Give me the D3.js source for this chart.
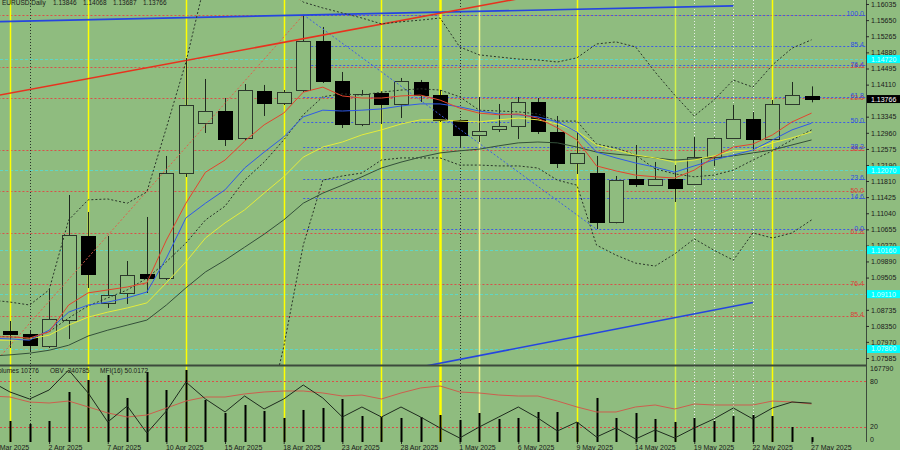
<!DOCTYPE html>
<html>
<head>
<meta charset="utf-8">
<script src="https://cdn.jsdelivr.net/npm/d3@7"></script>
<style>
html,body{margin:0;padding:0;background:#8fbc7f;overflow:hidden}
svg{display:block;font-family:"Liberation Sans",Arial,sans-serif}
</style>
</head>
<body>
<svg id="chart" width="900" height="450"></svg>
<script>
// ---------------- DATA ----------------
const dates = ["28 Mar","31 Mar","1 Apr","2 Apr","3 Apr","4 Apr","7 Apr","8 Apr","9 Apr","10 Apr","11 Apr","14 Apr","15 Apr","16 Apr","17 Apr","18 Apr","21 Apr","22 Apr","23 Apr","24 Apr","25 Apr","28 Apr","29 Apr","30 Apr","1 May","2 May","5 May","6 May","7 May","8 May","9 May","12 May","13 May","14 May","15 May","16 May","19 May","20 May","21 May","22 May","23 May","26 May","27 May"];
const dateTicks = ["28 Mar","2 Apr","7 Apr","10 Apr","15 Apr","18 Apr","23 Apr","28 Apr","1 May","6 May","9 May","14 May","19 May","22 May","27 May"];
const dateTickLabels = ["28 Mar 2025","2 Apr 2025","7 Apr 2025","10 Apr 2025","15 Apr 2025","18 Apr 2025","23 Apr 2025","28 Apr 2025","1 May 2025","6 May 2025","9 May 2025","14 May 2025","19 May 2025","22 May 2025","27 May 2025"];

const open  = [null,1.08229,1.08158,1.07871,1.08492,1.10497,1.08898,1.09137,1.09590,1.09495,1.12001,1.13194,1.13481,1.12836,1.13958,1.13672,1.13982,1.15152,1.14197,1.13171,1.13911,1.13648,1.14173,1.13863,1.13266,1.12908,1.13051,1.13123,1.13696,1.12980,1.12240,1.12001,1.10831,1.11858,1.11715,1.11858,1.11738,1.12383,1.12836,1.13290,1.12813,1.13648,1.13846];
const high  = [null,1.08468,1.08253,1.09232,1.11476,1.11070,1.10497,1.09900,1.10951,1.12407,1.14746,1.14245,1.13791,1.14125,1.14102,1.13982,1.15772,1.15486,1.14412,1.13982,1.13950,1.14269,1.14221,1.13982,1.13280,1.13815,1.13648,1.13815,1.13791,1.13362,1.12956,1.12407,1.11929,1.12669,1.12264,1.12192,1.12860,1.12850,1.13624,1.13457,1.13743,1.14173,1.14068];
const low   = [null,1.07824,1.07728,1.07824,1.08039,1.09256,1.08779,1.08874,1.09137,1.09447,1.11905,1.12956,1.12645,1.12789,1.13362,1.13624,1.13934,1.14149,1.13075,1.13120,1.13171,1.13314,1.13696,1.13218,1.12622,1.12741,1.12980,1.12813,1.12932,1.12120,1.11977,1.10664,1.10800,1.11667,1.11691,1.11309,1.11720,1.12168,1.12813,1.12526,1.12800,1.13624,1.13687];
const close = [null,1.08158,1.07895,1.08516,1.10521,1.09590,1.09089,1.09566,1.09495,1.12001,1.13624,1.13481,1.12813,1.13982,1.13672,1.13934,1.15152,1.14197,1.13171,1.13887,1.13648,1.14197,1.13863,1.13266,1.12908,1.13004,1.13123,1.13696,1.13004,1.12240,1.12478,1.10831,1.11834,1.11738,1.11858,1.11643,1.12383,1.12836,1.13290,1.12813,1.13648,1.13863,1.13766];

const maRed    = [1.0809,1.0809,1.0806,1.0821,1.0885,1.0914,1.0921,1.0928,1.0938,1.1040,1.1128,1.1202,1.1231,1.1276,1.1315,1.1343,1.1393,1.1405,1.1384,1.1379,1.1379,1.1384,1.1386,1.1374,1.1355,1.1343,1.1339,1.1341,1.1331,1.1308,1.1279,1.1217,1.1205,1.1195,1.1191,1.1188,1.1207,1.1238,1.1262,1.1269,1.1291,1.1322,1.1343];
const maBlue   = [1.0806,1.0804,1.0801,1.0825,1.0868,1.0885,1.0892,1.0902,1.0916,1.0997,1.1093,1.1128,1.1160,1.1212,1.1250,1.1286,1.1334,1.1350,1.1348,1.1350,1.1353,1.1360,1.1365,1.1365,1.1358,1.1348,1.1341,1.1339,1.1334,1.1322,1.1298,1.1250,1.1236,1.1224,1.1214,1.1202,1.1217,1.1231,1.1243,1.1255,1.1279,1.1303,1.1319];
const maYellow = [1.0801,1.0801,1.0804,1.0813,1.0837,1.0856,1.0868,1.0878,1.0890,1.0938,1.0988,1.1045,1.1081,1.1112,1.1152,1.1191,1.1238,1.1262,1.1274,1.1291,1.1303,1.1317,1.1327,1.1327,1.1324,1.1322,1.1327,1.1331,1.1327,1.1317,1.1300,1.1267,1.1255,1.1243,1.1236,1.1226,1.1231,1.1241,1.1253,1.1255,1.1272,1.1284,1.1298];
const maGreen  = [1.0763,1.0766,1.0770,1.0777,1.0789,1.0811,1.0825,1.0837,1.0849,1.0885,1.0926,1.0964,1.0992,1.1023,1.1054,1.1088,1.1128,1.1152,1.1171,1.1191,1.1212,1.1226,1.1238,1.1248,1.1253,1.1257,1.1265,1.1272,1.1274,1.1272,1.1262,1.1250,1.1245,1.1241,1.1236,1.1231,1.1234,1.1236,1.1241,1.1248,1.1255,1.1267,1.1279];
const bbUpper  = [1.0897,1.0892,1.0885,1.0921,1.1088,1.1136,1.1138,1.1128,1.1155,1.1308,1.1465,1.1661,1.1732,1.1744,1.1708,1.1649,1.1608,1.1594,1.1582,1.1570,1.1556,1.1561,1.1565,1.1570,1.1501,1.1482,1.1477,1.1472,1.1470,1.1465,1.1475,1.1508,1.1513,1.1501,1.1441,1.1386,1.1336,1.1374,1.1422,1.1405,1.1458,1.1498,1.1518];
const bbMiddle = [1.0811,1.0809,1.0806,1.0821,1.0854,1.0883,1.0902,1.0921,1.0949,1.0988,1.1033,1.1088,1.1121,1.1183,1.1226,1.1279,1.1339,1.1382,1.1389,1.1386,1.1393,1.1398,1.1401,1.1398,1.1382,1.1350,1.1348,1.1346,1.1341,1.1324,1.1324,1.1269,1.1260,1.1243,1.1210,1.1198,1.1191,1.1195,1.1207,1.1231,1.1253,1.1279,1.1303];
const bbLower  = [1.0735,1.0735,1.0730,1.0725,1.0682,1.0646,1.0622,1.0611,1.0599,1.0563,1.0539,1.0515,1.0503,1.0515,1.0587,1.0785,1.1028,1.1183,1.1193,1.1200,1.1231,1.1236,1.1236,1.1236,1.1219,1.1219,1.1217,1.1217,1.1212,1.1183,1.1171,1.1028,1.1004,1.0985,1.0978,1.1007,1.1043,1.1016,1.0992,1.1057,1.1045,1.1057,1.1088];

const volumes = [null,46400,39700,46400,110400,136900,147900,97200,154600,114800,159000,92700,64000,81700,68400,53000,70700,75100,94900,57400,55200,53000,55200,59600,48600,64000,50800,53000,66200,66200,44200,97200,53000,64000,50800,44200,53000,46400,57400,59600,57400,33100,10776];
const obv = [20000,-107900,-190800,-84200,152600,-119700,-463200,-273700,-593400,-332900,10500,-190800,-344700,-155300,-309200,-190800,-25000,-179000,-404000,-285500,-404000,-285500,-404000,-534200,-652600,-522400,-404000,-285500,-415800,-569700,-463200,-640800,-534200,-664500,-557900,-652600,-534200,-427600,-297400,-427600,-297400,-226300,-240785];
const mfi = [60.5,59.2,52.6,51.3,53.9,46.1,38.2,32.9,35.5,44.7,53.9,59.2,59.2,63.2,65.8,67.1,67.1,64.5,60.5,61.8,56.6,64.5,71.1,73.7,65.8,64.5,61.8,60.5,60.5,53.9,46.1,39.5,39.5,46.1,48.7,43.4,50.0,48.7,48.7,48.7,53.9,52.6,50.0172];

// tick labels visible on the price scale (those hidden under the marker boxes are left out)
const priceTicks = [1.16035,1.15650,1.15265,1.14880,1.14495,1.14110,1.13345,1.12960,1.12575,1.12190,1.11810,1.11425,1.11040,1.10655,1.10270,1.09890,1.09505,1.08735,1.08350,1.07970,1.07585];
const priceMin = 1.07418, priceMax = 1.16130;
const volMax = 167790;
const obvMin = -700000, obvMax = 200000;

const blueFib = {from:"21 Apr", to:"12 May", p0:1.1066, p100:1.1578};
const redFib  = {from:"28 Mar", to:"21 Apr", p0:1.1577, p100:1.0736};
const fibLevels = [0,14.6,23.6,38.2,50,61.8,76.4,85.4,100];
const redFibLabelLevels = [14.6,23.6,38.2,50,61.8,76.4,85.4];
const cyanLevels = [1.14720,1.12070,1.10160,1.09110,1.07800];

const trendBlueTop = [["28 Mar",1.1561],["21 May",1.1599]];
const trendRed     = [["28 Mar",1.1382],["6 May",1.1616]];
const trendBlueLow = [["29 Apr",1.0737],["22 May",1.0891]];

const yellowMarks = ["31 Mar","4 Apr","11 Apr","18 Apr","25 Apr","9 May","23 May"];
const boldYellowMarks = ["30 Apr"];
const paleYellowMarks = ["2 May"];
const limeMarks = ["16 May"];
const whiteMarks = ["19 May","20 May","21 May","22 May"];
const monthMarks = ["1 Apr","1 May"];

const headerText = ["EURUSD,Daily","1.13846","1.14068","1.13687","1.13766"];
const lastPrice = 1.13766;

// ---------------- DRAW ----------------
const BG = "#8fbc7f";
const W = 900, H = 450, axisX = 866, mainBottom = 365, subTop = 366, subBottom = 442;
const svg = d3.select("#chart");
svg.append("rect").attr("width", W).attr("height", H).attr("fill", BG);

const x = d3.scalePoint().domain(dates).range([-9.55, 811.55]);
const y = d3.scaleLinear().domain([priceMin, priceMax]).range([mainBottom, 0]);
const yVol = d3.scaleLinear().domain([0, volMax]).range([subBottom, subTop]);
const yMfi = d3.scaleLinear().domain([0, 100]).range([subBottom, subTop]);
const yObv = d3.scaleLinear().domain([obvMin, obvMax]).range([subBottom, subTop]);

const defs = svg.append("defs");
defs.append("clipPath").attr("id", "cm").append("rect").attr("x", 0).attr("y", 0).attr("width", axisX).attr("height", mainBottom);
defs.append("clipPath").attr("id", "cs").append("rect").attr("x", 0).attr("y", subTop).attr("width", axisX).attr("height", subBottom - subTop + 1);
defs.append("clipPath").attr("id", "call").append("rect").attr("x", 0).attr("y", 0).attr("width", axisX).attr("height", subBottom);

const main = svg.append("g").attr("clip-path", "url(#cm)");
const vert = svg.append("g").attr("clip-path", "url(#call)");
const main2 = svg.append("g").attr("clip-path", "url(#cm)");
const sub = svg.append("g").attr("clip-path", "url(#cs)");

// horizontal fib levels
const fibPrice = (f, l) => f.p0 + (f.p100 - f.p0) * l / 100;
main.selectAll(".rf").data(fibLevels).join("line")
  .attr("x1", x(redFib.from)).attr("x2", axisX)
  .attr("y1", l => Math.round(y(fibPrice(redFib, l))) + 0.5).attr("y2", l => Math.round(y(fibPrice(redFib, l))) + 0.5)
  .attr("stroke", "#d9504a").attr("stroke-dasharray", "2,2");
main.selectAll(".bf").data(fibLevels).join("line")
  .attr("x1", x(blueFib.from)).attr("x2", axisX)
  .attr("y1", l => Math.round(y(fibPrice(blueFib, l))) + 0.5).attr("y2", l => Math.round(y(fibPrice(blueFib, l))) + 0.5)
  .attr("stroke", "#3d5ce6").attr("stroke-dasharray", "2,2");
main.selectAll(".cy").data(cyanLevels).join("line")
  .attr("x1", 0).attr("x2", axisX)
  .attr("y1", p => Math.round(y(p)) + 0.5).attr("y2", p => Math.round(y(p)) + 0.5)
  .attr("stroke", "#5fd6c4").attr("stroke-dasharray", "3,2");

// vertical markers
function vlines(list, color, width, dash) {
  vert.selectAll(null).data(list).join("line")
    .attr("x1", d => Math.round(x(d)) + 0.5).attr("x2", d => Math.round(x(d)) + 0.5)
    .attr("y1", 0).attr("y2", subBottom)
    .attr("stroke", color).attr("stroke-width", width)
    .attr("stroke-dasharray", dash || null);
}
vlines(yellowMarks, "#ffff00", 1.5);
vlines(boldYellowMarks, "#ffff00", 2.5);
vlines(paleYellowMarks, "#f2f28a", 1.5);
vlines(limeMarks, "#d4f04a", 1.5);
vlines(whiteMarks, "#e8efe6", 1, "1,2");
vlines(monthMarks, "#2a332a", 1, "1,2");

// candles
const candles = dates.map((d, i) => ({d, o: open[i], h: high[i], l: low[i], c: close[i]})).filter(c => c.o != null);
main2.selectAll(".wick").data(candles).join("line")
  .attr("x1", c => Math.round(x(c.d)) + 0.5).attr("x2", c => Math.round(x(c.d)) + 0.5)
  .attr("y1", c => y(c.h)).attr("y2", c => y(c.l))
  .attr("stroke", "#1f2a1f").attr("stroke-width", 1);
main2.selectAll(".body").data(candles).join("rect")
  .attr("x", c => Math.round(x(c.d)) - 6.5).attr("width", 14)
  .attr("y", c => Math.round(y(Math.max(c.o, c.c))) + 0.5)
  .attr("height", c => Math.max(1, Math.round(y(Math.min(c.o, c.c))) - Math.round(y(Math.max(c.o, c.c)))))
  .attr("fill", c => c.c >= c.o ? BG : "#000")
  .attr("stroke", c => c.c >= c.o ? "#2c382c" : "#000").attr("stroke-width", 1);

// trend lines & fib diagonals
function seg(pts, color, width, dash) {
  main2.append("path")
    .attr("d", d3.line().x(p => x(p[0])).y(p => y(p[1]))(pts))
    .attr("fill", "none").attr("stroke", color).attr("stroke-width", width)
    .attr("stroke-dasharray", dash || null);
}
seg([[redFib.from, redFib.p100], [redFib.to, redFib.p0]], "#e0604a", 1, "2,2");
seg([[blueFib.from, blueFib.p100], [blueFib.to, blueFib.p0]], "#3d5ce6", 1, "2,2");
seg(trendBlueTop, "#2545e0", 1.6);
seg(trendRed, "#e8321e", 1.6);
seg(trendBlueLow, "#2545e0", 1.6);

// indicator lines
function series(vals, scale, g, color, width, dash) {
  g.append("path")
    .attr("d", d3.line().defined(d => d[1] != null).x(d => x(d[0])).y(d => scale(d[1]))(dates.map((dt, i) => [dt, vals[i]])))
    .attr("fill", "none").attr("stroke", color).attr("stroke-width", width)
    .attr("stroke-dasharray", dash || null);
}
series(bbUpper, y, main2, "#2a362a", 1, "2,2");
series(bbLower, y, main2, "#2a362a", 1, "2,2");
series(bbMiddle, y, main2, "#2a362a", 1, "2,2");
series(maGreen, y, main2, "#34503a", 1);
series(maYellow, y, main2, "#e4ec3c", 1);
series(maBlue, y, main2, "#2f5ae8", 1);
series(maRed, y, main2, "#e4442e", 1);

// sub window
sub.selectAll(".lv").data([80, 20]).join("line")
  .attr("x1", 0).attr("x2", axisX)
  .attr("y1", v => Math.round(yMfi(v)) + 0.5).attr("y2", v => Math.round(yMfi(v)) + 0.5)
  .attr("stroke", "#d9504a").attr("stroke-dasharray", "2,2");
const vols = dates.map((d, i) => ({d, v: volumes[i]})).filter(v => v.v != null);
sub.selectAll(".vol").data(vols).join("rect")
  .attr("x", v => Math.round(x(v.d)) - 0.5).attr("width", 2)
  .attr("y", v => yVol(v.v)).attr("height", v => subBottom - yVol(v.v))
  .attr("fill", "#000");
series(mfi, yMfi, sub, "#cc5f4e", 1);
series(obv, yObv, sub, "#1e2a1e", 1);

// frame
svg.append("line").attr("x1", 0).attr("x2", axisX).attr("y1", 365.5).attr("y2", 365.5).attr("stroke", "#3c4a3c").attr("stroke-width", 2);
svg.append("line").attr("x1", axisX + 0.5).attr("x2", axisX + 0.5).attr("y1", 0).attr("y2", subBottom).attr("stroke", "#3c4a3c").attr("stroke-width", 1);

// price axis
const ax = svg.append("g").attr("transform", `translate(${axisX},0)`)
  .call(d3.axisRight(y).tickValues(priceTicks).tickFormat(d => d.toFixed(5)).tickSize(3).tickPadding(2));
ax.select(".domain").remove();
ax.selectAll("line").attr("stroke", "#2a2a2a");
ax.selectAll("text").attr("font-size", 7).attr("fill", "#1a1a1a").attr("font-family", "Liberation Sans, Arial, sans-serif");

// fib labels
svg.selectAll(".rfl").data(redFibLabelLevels).join("text")
  .attr("x", 864).attr("y", l => y(fibPrice(redFib, l)) + 1.5).attr("text-anchor", "end")
  .attr("font-size", 7).attr("fill", "#d9443a").text(l => l.toFixed(1));
svg.selectAll(".bfl").data(fibLevels).join("text")
  .attr("x", 864).attr("y", l => y(fibPrice(blueFib, l)) + 1.5).attr("text-anchor", "end")
  .attr("font-size", 7).attr("fill", "#3050e0").text(l => l.toFixed(1));

// cyan and last price boxes
svg.selectAll(".cyb").data(cyanLevels).join("rect")
  .attr("x", axisX + 1).attr("y", p => y(p) - 4).attr("width", W - axisX).attr("height", 8).attr("fill", "#00ffff");
svg.selectAll(".cyt").data(cyanLevels).join("text")
  .attr("x", 871).attr("y", p => y(p) + 2.5).attr("font-size", 7).attr("fill", "#d8ffff").text(p => p.toFixed(5));
svg.append("rect").attr("x", axisX + 1).attr("y", y(lastPrice) - 4).attr("width", W - axisX).attr("height", 8).attr("fill", "#000");
svg.append("text").attr("x", 871).attr("y", y(lastPrice) + 2.5).attr("font-size", 7).attr("fill", "#fff").text(lastPrice.toFixed(5));

// sub axis labels
const subLabels = [[volMax.toString(), yVol(volMax) + 4.5], ["80", yMfi(80) + 2.5], ["20", yMfi(20) + 2.5], ["0", subBottom]];
svg.selectAll(".sl").data(subLabels).join("text")
  .attr("x", 870).attr("y", d => d[1]).attr("font-size", 7).attr("fill", "#1a1a1a").text(d => d[0]);

// date axis
const dax = svg.append("g").attr("transform", `translate(0,${subBottom})`)
  .call(d3.axisBottom(x).tickValues(dateTicks).tickFormat((d, i) => dateTickLabels[i]).tickSize(2).tickPadding(1));
dax.select(".domain").remove();
dax.selectAll("line").attr("stroke", "#2a2a2a");
dax.selectAll("text").attr("text-anchor", "start").attr("dx", -1).attr("font-size", 7).attr("fill", "#1a1a1a")
  .attr("font-family", "Liberation Sans, Arial, sans-serif");

// header & sub-window legend
const hx = [2, 53, 83, 113, 143];
svg.selectAll(".hd").data(headerText).join("text")
  .attr("x", (d, i) => hx[i]).attr("y", 5).attr("font-size", 6.5).attr("fill", "#1a1a1a").text(d => d);
const legend = ["Volumes 10776", "OBV -240785", "MFI(16) 50.0172"];
const lx = [-6, 50, 100];
svg.selectAll(".lg").data(legend).join("text")
  .attr("x", (d, i) => lx[i]).attr("y", 372.5).attr("font-size", 6.5).attr("fill", "#1a1a1a").text(d => d);
</script>
</body>
</html>
